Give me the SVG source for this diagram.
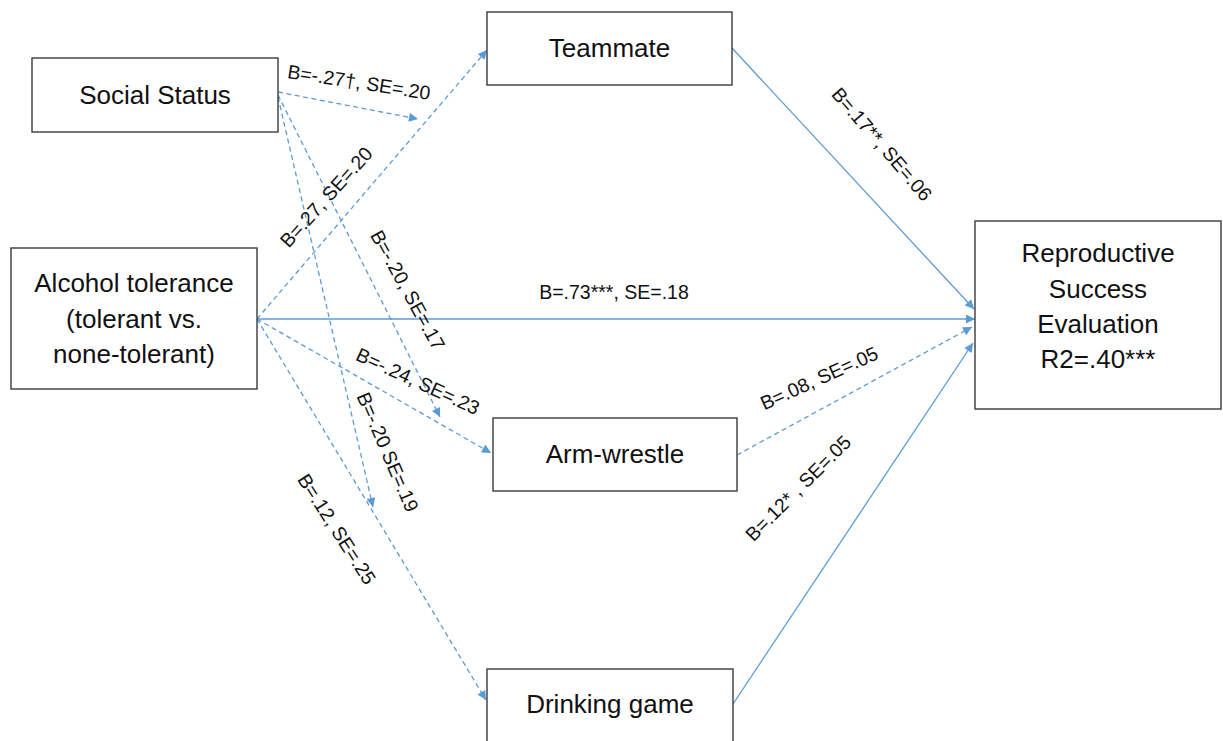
<svg xmlns="http://www.w3.org/2000/svg" width="1223" height="741" viewBox="0 0 1223 741">
<defs>
<style>
.box{fill:#fff;stroke:#3a3a3a;stroke-width:1.4}
.nt{font-family:"Liberation Sans",Arial,sans-serif;font-size:26px;fill:#111;text-anchor:middle}
.lb{font-family:"Liberation Sans",Arial,sans-serif;font-size:19.5px;fill:#111;text-anchor:middle}
.c{stroke:#5B9BD5;stroke-width:1.3;fill:none;marker-end:url(#ah)}
.d{stroke-dasharray:5 3.5}
</style>
<marker id="ah" viewBox="0 0 10 10" refX="10" refY="5" markerWidth="11" markerHeight="9" markerUnits="userSpaceOnUse" orient="auto">
<path d="M0,0 L10,5 L0,10 z" fill="#5B9BD5"/>
</marker>
</defs>
<rect width="1223" height="741" fill="#fff"/>
<g id="connectors">
<line class="c d" x1="278" y1="92" x2="418" y2="119"/>
<line class="c d" x1="257" y1="319" x2="487" y2="50"/>
<line class="c" x1="257" y1="319" x2="975" y2="319"/>
<line class="c d" x1="278" y1="95" x2="440" y2="417"/>
<line class="c d" x1="278" y1="97" x2="373" y2="507"/>
<line class="c d" x1="257" y1="319" x2="491" y2="453"/>
<line class="c d" x1="257" y1="319" x2="486" y2="700"/>
<line class="c" x1="732" y1="48" x2="974" y2="309"/>
<line class="c d" x1="737" y1="455" x2="972" y2="327"/>
<line class="c" x1="733" y1="704" x2="973" y2="343"/>
</g>
<g id="labels">
<text class="lb" transform="translate(359,82) rotate(8.8)" y="7">B=-.27†, SE=.20</text>
<text class="lb" transform="translate(326,197) rotate(-48)" y="7">B=.27, SE=.20</text>
<text class="lb" transform="translate(614,292)" y="7">B=.73***, SE=.18</text>
<text class="lb" transform="translate(408,290) rotate(61.3)" y="7">B=-.20, SE=.17</text>
<text class="lb" transform="translate(388,452) rotate(66.8)" y="7">B=-.20 SE=.19</text>
<text class="lb" transform="translate(418,381) rotate(24.7)" y="7">B=-.24, SE=.23</text>
<text class="lb" transform="translate(337,529) rotate(57.3)" y="7">B=.12, SE=.25</text>
<text class="lb" transform="translate(882,144) rotate(49.3)" y="7">B=.17**, SE=.06</text>
<text class="lb" transform="translate(819,378) rotate(-24.4)" y="7">B=.08, SE=.05</text>
<text class="lb" transform="translate(798,488) rotate(-45)" y="7">B=.12* , SE=.05</text>
</g>
<g id="social-status">
<rect class="box" x="32" y="58" width="246" height="74"/>
<text class="nt" x="155" y="104">Social Status</text>
</g>
<g id="alcohol-tolerance">
<rect class="box" x="11" y="248" width="246" height="141"/>
<text class="nt" x="134" y="292">Alcohol tolerance</text>
<text class="nt" x="134" y="328">(tolerant vs.</text>
<text class="nt" x="134" y="363">none-tolerant)</text>
</g>
<g id="teammate">
<rect class="box" x="487" y="12" width="245" height="73"/>
<text class="nt" x="609.5" y="57">Teammate</text>
</g>
<g id="arm-wrestle">
<rect class="box" x="493" y="418" width="244" height="73"/>
<text class="nt" x="615" y="463">Arm-wrestle</text>
</g>
<g id="drinking-game">
<rect class="box" x="487" y="669" width="246" height="80"/>
<text class="nt" x="610" y="713">Drinking game</text>
</g>
<g id="reproductive-success">
<rect class="box" x="975" y="221" width="246" height="188"/>
<text class="nt" x="1098" y="262">Reproductive</text>
<text class="nt" x="1098" y="298">Success</text>
<text class="nt" x="1098" y="333">Evaluation</text>
<text class="nt" x="1098" y="368">R2=.40***</text>
</g>
</svg>
